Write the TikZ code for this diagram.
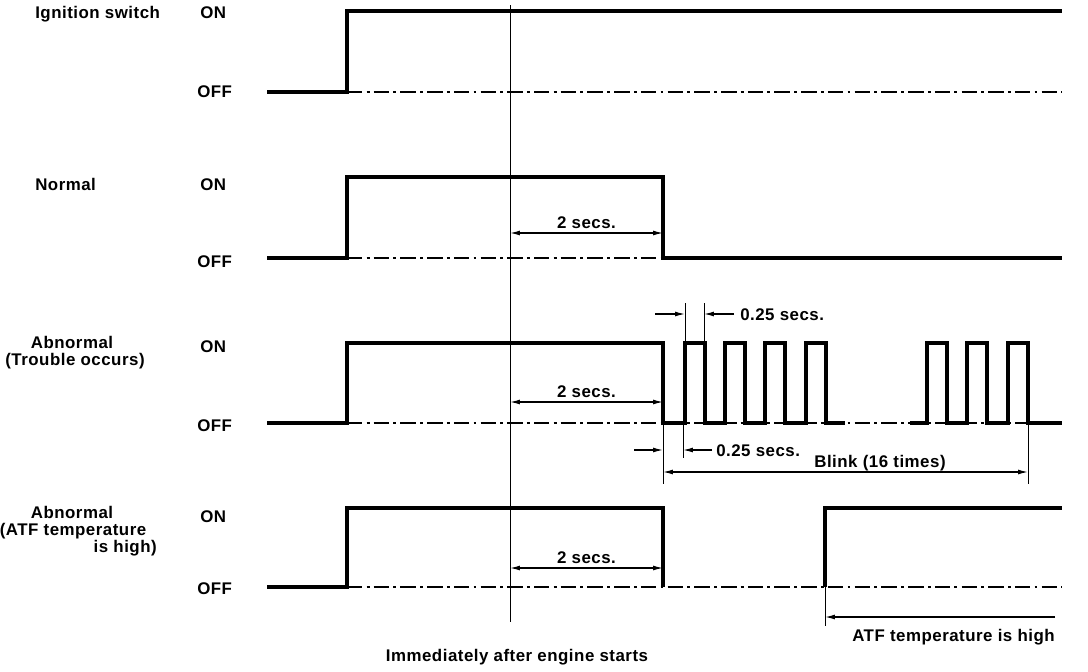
\documentclass[tikz,border=0pt]{standalone}
\usepackage{fontspec}
\setmainfont{Liberation Sans}[LetterSpace=3]
\usetikzlibrary{arrows.meta,positioning}

\begin{document}
\begin{tikzpicture}[x=0.025cm, y=-0.025cm, >={Latex[length=7pt,width=3.5pt]},
    font=\fontsize{12}{12}\selectfont\bfseries,
    txt/.style={inner sep=0pt, anchor=base west},
    wave/.style={line width=2.2pt},
    offlvl/.style={line width=1.2pt, dash pattern=on 11pt off 3pt on 2pt off 3pt},
    dimline/.style={<->, line width=0.9pt},
    single/.style={->, line width=0.9pt},
    extline/.style={line width=0.7pt}]
  \useasboundingbox (0,0) rectangle (1088,672);

  % signal names
  \node[txt] (ign) at (35,18) {Ignition switch};
  \node[txt] (norm) at (35,190) {Normal};
  \node[txt, anchor=base] (abn) at (72,348) {Abnormal};
  \node[txt, anchor=base] (trouble) at (75,365) {(Trouble occurs)};
  \node[txt, anchor=base] (abnatf) at (72,518) {Abnormal};
  \node[txt, anchor=base] (atf) at (73,535) {(ATF temperature};
  \node[txt, anchor=base east] (high) at (157,552) {is high)};
  \foreach \n/\yon/\yoff in {1/18/97, 2/190/267, 3/352/431, 4/522/594} {
    \node[txt] (on\n) at (200,\yon) {ON};
    \node[txt] (off\n) at (197,\yoff) {OFF};
  }

  % off levels
  \draw[offlvl] (347,92) -- (1062,92);
  \draw[offlvl] (347,258) -- (663,258);
  \draw[offlvl] (347,423) -- (1062,423);
  \draw[offlvl] (347,587) -- (1062,587);

  % waveforms
  \draw[wave] (267,92) -| (347,11) -- (1062,11);
  \draw[wave] (267,258) -| (347,177) -| (663,258) -- (1062,258);
  \draw[wave] (267,423) -| (347,343) -| (663,423)
    foreach \x in {685,725,765,806} { -- (\x,423) -- (\x,343) -- ++(20,0) -- ++(0,80) } -- (845,423);
  \draw[wave] (910,423)
    foreach \x in {927,967,1008} { -- (\x,423) -- (\x,343) -- ++(20,0) -- ++(0,80) } -- (1062,423);
  \draw[wave] (267,587) -| (347,508) -| (663,587);
  \draw[wave] (825,587) |- (1062,508);

  % engine start
  \coordinate (t0top) at (510,5);
  \coordinate (t0bot) at (510,622);
  \draw[extline] (t0top) -- (t0bot);
  \node[txt, anchor=base] (start) at (517,661) {Immediately after engine starts};

  % 2 secs.
  \foreach \n/\y in {2/233, 3/402, 4/568} {
    \coordinate (sa\n) at (510,\y);
    \coordinate (sb\n) at (663,\y);
    \draw[dimline] (sa\n) -- node[above=2.5pt, inner sep=0pt] (sec\n) {2 secs.} (sb\n);
  }

  % 0.25 secs. (pulse)
  \draw[extline] (685,303) -- (685,343);
  \draw[extline] (704,303) -- (704,343);
  \coordinate (pa) at (655,314);
  \coordinate (pb) at (685,314);
  \coordinate (pc) at (704,314);
  \coordinate (pd) at (734,314);
  \draw[single] (pa) -- (pb);
  \draw[single] (pd) -- (pc);
  \node[txt] (pulse) at (740,320) {0.25 secs.};

  % 0.25 secs. (gap) and blink
  \draw[extline] (663,423) -- (663,484);
  \draw[extline] (683,423) -- (683,458);
  \draw[extline] (1028,423) -- (1028,484);
  \coordinate (ga) at (634,450);
  \coordinate (gb) at (663,450);
  \coordinate (gc) at (683,450);
  \coordinate (gd) at (712,450);
  \draw[single] (ga) -- (gb);
  \draw[single] (gd) -- (gc);
  \node[txt] (gap) at (716,456) {0.25 secs.};
  \coordinate (bla) at (663,472);
  \coordinate (blb) at (1028,472);
  \draw[dimline] (bla) -- (blb);
  \node[txt, anchor=base] (blink) at (880,467) {Blink (16 times)};

  % ATF temperature is high
  \draw[extline] (825,587) -- (825,626);
  \coordinate (ha) at (1055,617);
  \coordinate (hb) at (825,617);
  \draw[single] (ha) -- (hb);
  \node[txt, anchor=base east] (hot) at (1055,641) {ATF temperature is high};
\end{tikzpicture}
\end{document}
